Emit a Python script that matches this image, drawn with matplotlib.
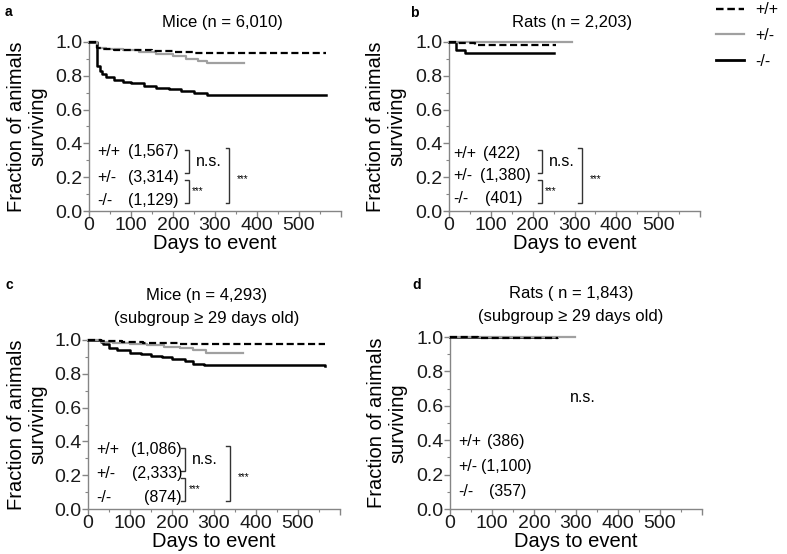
import matplotlib
matplotlib.use("Agg")
import matplotlib.pyplot as plt
from matplotlib.ticker import MultipleLocator, FixedLocator, FixedFormatter

plt.rcParams['font.family'] = ['Liberation Sans', 'DejaVu Sans']

# ---- data ----
# panel a : mice, all
wt_a_t = [0, 20, 30, 60, 100, 150, 200, 250, 565]
wt_a_s = [1.0, 0.965, 0.96, 0.955, 0.95, 0.945, 0.94, 0.935, 0.935]
het_a_t = [0, 20, 40, 80, 120, 160, 200, 230, 260, 280, 370]
het_a_s = [1.0, 0.965, 0.96, 0.95, 0.94, 0.93, 0.92, 0.90, 0.89, 0.875, 0.875]
ko_a_t = [0, 20, 25, 30, 40, 60, 80, 100, 130, 160, 190, 220, 250, 280, 565]
ko_a_s = [1.0, 0.86, 0.83, 0.81, 0.79, 0.775, 0.765, 0.755, 0.74, 0.73, 0.72, 0.71, 0.70, 0.685, 0.685]

# panel b : rats, all
wt_b_t = [0, 20, 62, 256]
wt_b_s = [1.0, 0.995, 0.985, 0.985]
het_b_t = [0, 295]
het_b_s = [1.0, 1.0]
ko_b_t = [0, 17, 38, 252]
ko_b_s = [1.0, 0.955, 0.935, 0.935]

# panel c : mice >= 29 days
wt_c_t = [0, 30, 80, 130, 180, 220, 565]
wt_c_s = [1.0, 0.995, 0.99, 0.985, 0.98, 0.975, 0.975]
het_c_t = [0, 30, 60, 100, 140, 180, 220, 250, 280, 370]
het_c_s = [1.0, 0.99, 0.985, 0.975, 0.97, 0.96, 0.95, 0.94, 0.925, 0.925]
ko_c_t = [0, 30, 35, 50, 70, 100, 125, 150, 175, 200, 230, 250, 275, 565]
ko_c_s = [1.0, 0.99, 0.975, 0.955, 0.94, 0.925, 0.915, 0.905, 0.9, 0.89, 0.875, 0.86, 0.85, 0.845]

# panel d : rats >= 29 days
wt_d_t = [0, 20, 67, 257]
wt_d_s = [1.0, 0.998, 0.993, 0.993]
het_d_t = [0, 298]
het_d_s = [1.0, 1.0]
ko_d_t = [0, 255]
ko_d_s = [1.0, 1.0]

genotypes = ['+/+', '+/-', '-/-']
counts_a = ['1,567', '3,314', '1,129']
counts_b = ['422', '1,380', '401']
counts_c = ['1,086', '2,333', '874']
counts_d = ['386', '1,100', '357']

titles = ['Mice (n = 6,010)', 'Rats (n = 2,203)',
          'Mice (n = 4,293)\n(subgroup \u2265 29 days old)',
          'Rats ( n = 1,843)\n(subgroup \u2265 29 days old)']

xticks = [0, 100, 200, 300, 400, 500, 600]
xticklabels = ['0', '100', '200', '300', '400', '500', '']
yticks = [0.0, 0.2, 0.4, 0.6, 0.8, 1.0]

W, H = 787, 554
GRAY = '#a0a0a0'
SPINE = '#858585'


def px(x, y):
    return x / W, 1 - y / H


def axes_rect(left, top, right, bottom):
    return [left / W, 1 - bottom / H, (right - left) / W, (bottom - top) / H]


def style_axes(ax, ylab_x):
    for s in ['top', 'right']:
        ax.spines[s].set_visible(False)
    for s in ['left', 'bottom']:
        ax.spines[s].set_color(SPINE)
        ax.spines[s].set_linewidth(1.0)
    ax.set_xlim(0, 600)
    ax.set_ylim(0, 1.0)
    ax.xaxis.set_major_locator(FixedLocator(xticks))
    ax.xaxis.set_major_formatter(FixedFormatter(xticklabels))
    ax.xaxis.set_minor_locator(MultipleLocator(50))
    ax.yaxis.set_major_locator(FixedLocator(yticks))
    ax.yaxis.set_major_formatter(FixedFormatter(['%.1f' % v for v in yticks]))
    ax.yaxis.set_minor_locator(MultipleLocator(0.1))
    ax.tick_params(which='major', length=4, width=1, color=SPINE,
                   labelsize=14, labelcolor='#1a1a1a', pad=0.5)
    ax.tick_params(which='minor', length=2.5, width=0.8, color=SPINE)
    ax.set_xlabel('Days to event', fontsize=14.5)
    ax.xaxis.set_label_coords(0.5, -0.135)
    ax.set_ylabel('Fraction of animals\nsurviving', fontsize=14.5, linespacing=1.15)
    ax.yaxis.set_label_coords(ylab_x, 0.5)


def draw_curves(ax, wt, het, ko):
    ax.plot(ko[0], ko[1], drawstyle='steps-post', color='black', lw=1.8,
            clip_on=False, zorder=3)
    ax.plot(het[0], het[1], drawstyle='steps-post', color=GRAY, lw=1.6,
            clip_on=False, zorder=4)
    ax.plot(wt[0], wt[1], drawstyle='steps-post', color='black', lw=1.6,
            linestyle=(0, (3.2, 1.6)), clip_on=False, zorder=5)


def bracket(ax, x, top, bot, w=9):
    ax.plot([x - w, x, x, x - w], [top, top, bot, bot], color='#333333', lw=1.0,
            solid_joinstyle='miter')


def rows(ax, counts, gx, ys, cx, ha):
    for g, c, y, x in zip(genotypes, counts, ys, cx):
        ax.text(gx, y, g, fontsize=11.5, va='center', ha='left')
        ax.text(x, y, '(%s)' % c, fontsize=11.5, va='center', ha=ha)


fig = plt.figure(figsize=(W / 100, H / 100), dpi=100)

ax_a = fig.add_axes(axes_rect(89, 42, 341, 211))
ax_b = fig.add_axes(axes_rect(449, 42, 700, 211))
ax_c = fig.add_axes(axes_rect(88, 340, 340, 509))
ax_d = fig.add_axes(axes_rect(450, 337, 702, 509))

draw_curves(ax_a, (wt_a_t, wt_a_s), (het_a_t, het_a_s), (ko_a_t, ko_a_s))
draw_curves(ax_b, (wt_b_t, wt_b_s), (het_b_t, het_b_s), (ko_b_t, ko_b_s))
draw_curves(ax_c, (wt_c_t, wt_c_s), (het_c_t, het_c_s), (ko_c_t, ko_c_s))
draw_curves(ax_d, (wt_d_t, wt_d_s), (het_d_t, het_d_s), (ko_d_t, ko_d_s))

style_axes(ax_a, -0.165)
style_axes(ax_b, -0.17)
style_axes(ax_c, -0.162)
style_axes(ax_d, -0.17)

# group sizes
rows(ax_a, counts_a, 19, [0.35, 0.20, 0.065], [214, 214, 214], 'right')
rows(ax_c, counts_c, 19, [0.35, 0.21, 0.07], [224, 224, 224], 'right')
rows(ax_b, counts_b, 10, [0.34, 0.21, 0.075], [82, 74, 86], 'left')
rows(ax_d, counts_d, 19, [0.39, 0.245, 0.10], [88, 74, 93], 'left')

# significance brackets
for ax, x1, x2 in [(ax_a, 238, 334), (ax_c, 231, 338), (ax_b, 222, 318)]:
    bracket(ax, x1, 0.36, 0.225)
    bracket(ax, x1, 0.185, 0.05)
    bracket(ax, x2, 0.37, 0.05)
    ax.text(x1 + 16, 0.29, 'n.s.', fontsize=11.5, va='center', ha='left')
    ax.text(x1 + 8, 0.12, '***', fontsize=7, va='center', ha='left')
    ax.text(x2 + 18, 0.19, '***', fontsize=7, va='center', ha='left')
ax_d.text(286, 0.65, 'n.s.', fontsize=11.5, va='center', ha='left')

# titles
fig.text(*px(222, 22), titles[0], fontsize=12, ha='center', va='center')
fig.text(*px(572, 22), titles[1], fontsize=12, ha='center', va='center')
fig.text(*px(207, 307), titles[2], fontsize=12, ha='center', va='center',
         linespacing=1.6)
fig.text(*px(571, 305), titles[3], fontsize=12, ha='center', va='center',
         linespacing=1.6)

# panel letters
for lab, (x, y) in zip('abcd', [(5, 12), (410, 13), (5, 285), (412, 285)]):
    fig.text(*px(x, y), lab, fontsize=10, fontweight='bold', ha='left', va='center')

# legend
h_ko = plt.Line2D([], [], color='black', lw=2.0)
h_het = plt.Line2D([], [], color=GRAY, lw=1.6)
h_wt = plt.Line2D([], [], color='black', lw=1.7, linestyle=(0, (3.2, 1.6)))
fig.legend([h_wt, h_het, h_ko], genotypes, loc='upper left',
           bbox_to_anchor=px(705, -9), frameon=False, fontsize=11.5,
           handlelength=1.75, handletextpad=0.7, labelspacing=0.68, borderpad=0.2)

fig.savefig('out.png', dpi=100)
